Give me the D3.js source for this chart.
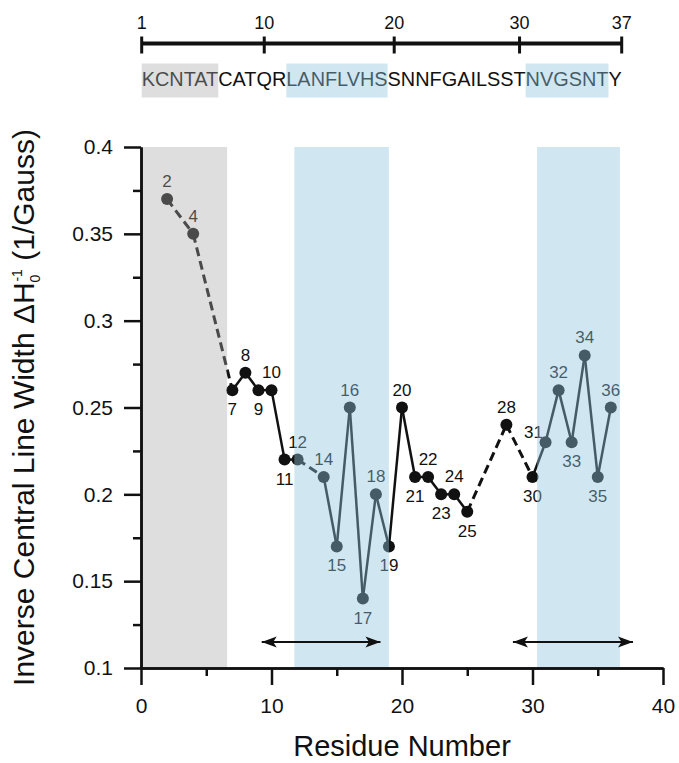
<!DOCTYPE html>
<html>
<head>
<meta charset="utf-8">
<script src="https://cdn.jsdelivr.net/npm/d3@7"></script>
<style>
  body { margin: 0; background: #fff; }
  svg { font-family: "Liberation Sans", Arial, sans-serif; }
</style>
</head>
<body>
<script>
// residue numbers and inverse central line width (1/Gauss)
residues = [2, 4, 7, 8, 9, 10, 11, 12, 14, 15, 16, 17, 18, 19, 20, 21, 22, 23, 24, 25, 28, 30, 31, 32, 33, 34, 35, 36]
values = [0.37, 0.35, 0.26, 0.27, 0.26, 0.26, 0.22, 0.22, 0.21, 0.17, 0.25, 0.14, 0.20, 0.17, 0.25, 0.21, 0.21, 0.20, 0.20, 0.19, 0.24, 0.21, 0.23, 0.26, 0.23, 0.28, 0.21, 0.25]
labelBelow = [7, 9, 11, 15, 17, 19, 21, 23, 25, 30, 33, 35]
labelLeft = [31]

sequence = "KCNTATCATQRLANFLVHSSNNFGAILSSTNVGSNTY"
seqTicks = [1, 10, 20, 30, 37]

// shaded regions (x range on plot, residue range on the sequence)
regionStart = [0, 11.75, 30.35]
regionEnd = [6.6, 19, 36.7]
regionSeqStart = [1, 12, 31]
regionSeqEnd = [6, 19, 36]
regionKind = ["gray", "blue", "blue"]

arrowStart = [9.25, 28.5]
arrowEnd = [18.35, 37.7]
arrowLevel = 0.115

xMajor = [0, 10, 20, 30, 40]
xMinor = [5, 15, 25, 35]
yMajor = [0.1, 0.15, 0.2, 0.25, 0.3, 0.35, 0.4]
yMinor = [0.125, 0.175, 0.225, 0.275, 0.325, 0.375]

width = 679
height = 763
margin = ({top: 147, right: 16, bottom: 95, left: 141})
bandFill = {gray: "rgb(167,167,167)", blue: "rgb(143,198,224)"}
bandAlpha = {gray: 0.38, blue: 0.42}

x = d3.scaleLinear()
    .domain([0, 40])
    .range([margin.left, width - margin.right])

y = d3.scaleLinear()
    .domain([0.1, 0.4])
    .range([height - margin.bottom, margin.top])

const svg = d3.select("body").append("svg")
    .attr("width", width)
    .attr("height", height)
    .attr("viewBox", [0, 0, width, height])

// arrow head
svg.append("defs").append("marker")
    .attr("id", "head")
    .attr("markerUnits", "userSpaceOnUse")
    .attr("markerWidth", 16)
    .attr("markerHeight", 12)
    .attr("refX", 15)
    .attr("refY", 6)
    .attr("orient", "auto-start-reverse")
  .append("path")
    .attr("d", "M0,0.5 L15,6 L0,11.5 L3.5,6 Z")
    .attr("fill", "#111")

// ---- sequence ruler on top ----
const rulerG = svg.append("g")

const seqText = rulerG.append("text")
    .attr("x", 141.7)
    .attr("y", 86)
    .attr("font-size", 20.5)
    .attr("textLength", 480)
    .attr("lengthAdjust", "spacingAndGlyphs")
    .attr("fill", "#111")
    .text(sequence)

// where each residue letter sits, so ticks and boxes follow the text
const tn = seqText.node()
const charLeft = d3.range(sequence.length).map(i => tn.getStartPositionOfChar(i).x)
const charRight = d3.range(sequence.length).map(i => tn.getEndPositionOfChar(i).x)
const charMid = i => (charLeft[i - 1] + charRight[i - 1]) / 2

ruler = d3.scaleLinear()
    .domain(seqTicks)
    .range(seqTicks.map((d, i) => i == 0 ? charLeft[0] : i == seqTicks.length - 1 ? charRight[d - 1] : charMid(d)))

rulerG.append("line")
    .attr("x1", ruler(1)).attr("x2", ruler(37))
    .attr("y1", 43.5).attr("y2", 43.5)
    .attr("stroke", "#111").attr("stroke-width", 4)

rulerG.selectAll(".rtick")
    .data(seqTicks)
    .join("line")
    .attr("x1", d => ruler(d)).attr("x2", d => ruler(d))
    .attr("y1", 36.5).attr("y2", 53.5)
    .attr("stroke", "#111").attr("stroke-width", 3)

rulerG.selectAll(".rlabel")
    .data(seqTicks)
    .join("text")
    .attr("x", d => ruler(d))
    .attr("y", 29)
    .attr("text-anchor", "middle")
    .attr("font-size", 18)
    .attr("fill", "#111")
    .text(d => d)

rulerG.selectAll(".box")
    .data(regionKind)
    .join("rect")
    .attr("x", (d, i) => charLeft[regionSeqStart[i] - 1])
    .attr("width", (d, i) => charRight[regionSeqEnd[i] - 1] - charLeft[regionSeqStart[i] - 1])
    .attr("y", 63.5)
    .attr("height", 34)
    .attr("fill", d => bandFill[d])
    .attr("fill-opacity", d => bandAlpha[d])

// ---- data ----
const pts = residues.map((r, i) => ({r: r, v: values[i]}))
const line = d3.line().x(d => x(d.r)).y(d => y(d.v))
const segs = d3.pairs(pts)

// consecutive residues joined solid, gaps joined dashed
svg.append("g")
    .selectAll("path")
    .data(segs)
    .join("path")
    .attr("d", d => line(d))
    .attr("fill", "none")
    .attr("stroke", "#111")
    .attr("stroke-width", d => d[1].r - d[0].r > 1 ? 3 : 2.5)
    .attr("stroke-dasharray", d => d[1].r - d[0].r > 1 ? "9,5" : null)

svg.append("g")
    .selectAll("circle")
    .data(pts)
    .join("circle")
    .attr("cx", d => x(d.r))
    .attr("cy", d => y(d.v))
    .attr("r", 6)
    .attr("fill", "#111")

svg.append("g")
    .attr("font-size", 17)
    .attr("fill", "#111")
    .attr("text-anchor", "middle")
    .selectAll("text")
    .data(pts)
    .join("text")
    .attr("x", d => x(d.r) + (labelLeft.includes(d.r) ? -12 : 0))
    .attr("y", d => y(d.v) + (labelBelow.includes(d.r) ? 25 : labelLeft.includes(d.r) ? -4 : -12))
    .text(d => d.r)

// ---- shaded regions (drawn over the data so they tint it) ----
svg.append("g")
    .selectAll("rect")
    .data(regionKind)
    .join("rect")
    .attr("x", (d, i) => x(regionStart[i]))
    .attr("width", (d, i) => x(regionEnd[i]) - x(regionStart[i]))
    .attr("y", y(0.4))
    .attr("height", y(0.1) - y(0.4))
    .attr("fill", d => bandFill[d])
    .attr("fill-opacity", d => bandAlpha[d])

// ---- arrows ----
svg.append("g")
    .selectAll("line")
    .data(arrowStart)
    .join("line")
    .attr("x1", d => x(d))
    .attr("x2", (d, i) => x(arrowEnd[i]))
    .attr("y1", y(arrowLevel))
    .attr("y2", y(arrowLevel))
    .attr("stroke", "#111")
    .attr("stroke-width", 2)
    .attr("marker-start", "url(#head)")
    .attr("marker-end", "url(#head)")

// ---- axes ----
const styleAxis = g => g
    .call(g => g.selectAll("path, line").attr("stroke", "#111").attr("stroke-width", 2.5))
    .call(g => g.selectAll("text").attr("fill", "#111").attr("font-size", 21).attr("font-family", null))

svg.append("g")
    .attr("transform", `translate(${margin.left},0)`)
    .call(d3.axisLeft(y).tickValues(yMinor).tickSize(8).tickFormat("").tickSizeOuter(0))
    .call(styleAxis)

svg.append("g")
    .attr("transform", `translate(${margin.left},0)`)
    .call(d3.axisLeft(y).tickValues(yMajor).tickSize(17).tickPadding(11).tickSizeOuter(0).tickFormat(d3.format("")))
    .call(styleAxis)

svg.append("g")
    .attr("transform", `translate(0,${y(0.1)})`)
    .call(d3.axisBottom(x).tickValues(xMinor).tickSize(8).tickFormat("").tickSizeOuter(0))
    .call(styleAxis)

svg.append("g")
    .attr("transform", `translate(0,${y(0.1)})`)
    .call(d3.axisBottom(x).tickValues(xMajor).tickSize(17).tickPadding(13).tickSizeOuter(0))
    .call(styleAxis)

// ---- titles ----
svg.append("text")
    .attr("x", (x(0) + x(40)) / 2)
    .attr("y", 756)
    .attr("text-anchor", "middle")
    .attr("font-size", 29)
    .attr("fill", "#111")
    .text("Residue Number")

const yt = svg.append("text")
    .attr("transform", `translate(34,${(y(0.1) + y(0.4)) / 2}) rotate(-90)`)
    .attr("text-anchor", "middle")
    .attr("font-size", 30)
    .attr("fill", "#111")
yt.append("tspan").text("Inverse Central Line Width \u0394H")
yt.append("tspan").attr("font-size", 14).attr("dy", 6).text("0")
yt.append("tspan").attr("font-size", 14).attr("dx", -7).attr("dy", -18).text("-1")
yt.append("tspan").attr("dy", 12).text(" (1/Gauss)")
</script>
</body>
</html>
